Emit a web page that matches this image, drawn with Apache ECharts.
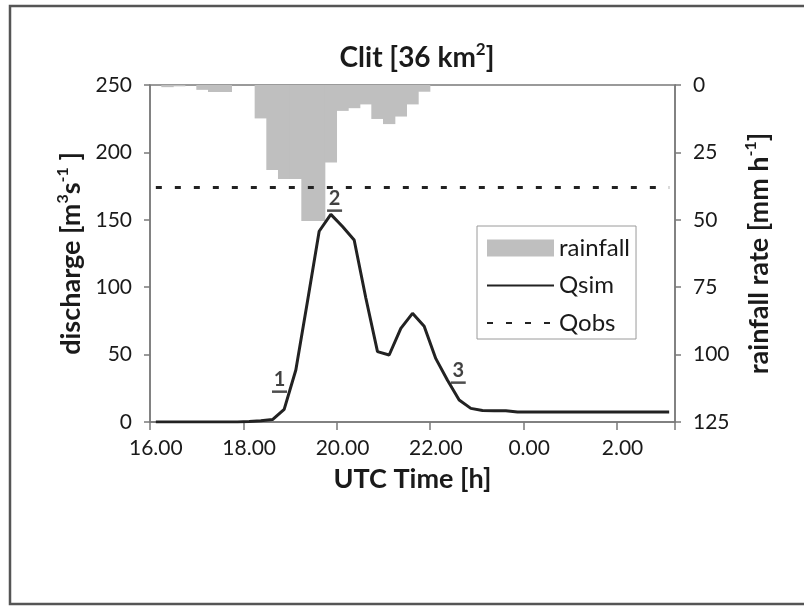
<!DOCTYPE html>
<html>
<head>
<meta charset="utf-8">
<script src="https://cdn.jsdelivr.net/npm/echarts@6/dist/echarts.min.js"></script>
<style>
  html, body { margin: 0; padding: 0; background: #fff; }
  #chart { width: 804px; height: 606px; }
</style>
</head>
<body>
<div id="chart"></div>
<script>
// Quarter-hour time steps, 16:00 to 03:00 (UTC)
const categories = [
  '16.00','16.15','16.30','16.45','17.00','17.15','17.30','17.45',
  '18.00','18.15','18.30','18.45','19.00','19.15','19.30','19.45',
  '20.00','20.15','20.30','20.45','21.00','21.15','21.30','21.45',
  '22.00','22.15','22.30','22.45','23.00','23.15','23.30','23.45',
  '0.00','0.15','0.30','0.45','1.00','1.15','1.30','1.45',
  '2.00','2.15','2.30','2.45','3.00'
];

// Rainfall rate [mm/h]
const rainfall = [
  0, 0.8, 0.5, 0, 1.8, 2.6, 2.6, 0,
  0, 12.4, 31.5, 34.9, 34.9, 50.4, 50.4, 28.7,
  9.6, 8.6, 7.2, 12.6, 14.5, 11.7, 7.2, 2.5,
  0, 0, 0, 0, 0, 0, 0, 0,
  0, 0, 0, 0, 0, 0, 0, 0,
  0, 0, 0, 0, 0
];

// Simulated discharge [m3/s]
const qsim = [
  0, 0, 0, 0, 0, 0, 0, 0,
  0.3, 1, 1.8, 9.4, 38.6, 89.5, 141.5, 154,
  145, 135, 92, 52.2, 49.7, 69.5, 80.6, 71,
  47, 31, 16.3, 10.1, 8.6, 8.4, 8.4, 7.4,
  7.4, 7.4, 7.4, 7.4, 7.4, 7.4, 7.4, 7.4,
  7.4, 7.4, 7.4, 7.4, 7.4
];

// Observed discharge [m3/s]
const qobs = [
  174, 174, 174, 174, 174, 174, 174, 174,
  174, 174, 174, 174, 174, 174, 174, 174,
  174, 174, 174, 174, 174, 174, 174, 174,
  174, 174, 174, 174, 174, 174, 174, 174,
  174, 174, 174, 174, 174, 174, 174, 174,
  174, 174, 174, 174, 174
];

// Numbered moments on the hydrograph: [time in hours from 0:00 of day 1, discharge, label]
const moments = [
  [18.65, 22.5, '1'],
  [19.83, 156.8, '2'],
  [22.48, 29.2, '3']
];

const xTickLabelStep = 8;     // one label every 2 hours
const dischargeTicks = { min: 0, max: 250, interval: 50 };
const rainTicks = { min: 0, max: 125, interval: 25 };

const FONT = 'Lato, "Liberation Sans", sans-serif';
const TXT = '#1a1a1a';
const AX = '#7a7a7a';
const LINE = '#222';

const chart = echarts.init(document.getElementById('chart'), null, { renderer: 'canvas' });

const supStyle = { fontSize: 16, fontWeight: 'bold', fontFamily: FONT, color: TXT, verticalAlign: 'top', lineHeight: 32 };
const baseStyle = { fontSize: 27, fontWeight: 'bold', fontFamily: FONT, color: TXT, lineHeight: 32 };

chart.setOption({
  backgroundColor: '#fff',
  animation: false,
  graphic: [{
    type: 'rect',
    shape: { x: 10, y: 6, width: 810, height: 598 },
    style: { fill: 'none', stroke: '#555', lineWidth: 2.5 },
    silent: true
  }],
  title: {
    text: 'Clit [36 km{sup|2}]',
    left: 412,
    top: 36,
    textAlign: 'center',
    textStyle: {
      fontSize: 28, fontWeight: 'bold', fontFamily: FONT, color: TXT, lineHeight: 34,
      rich: { sup: { fontSize: 17, fontWeight: 'bold', fontFamily: FONT, color: TXT, verticalAlign: 'top', lineHeight: 34 } }
    }
  },
  grid: {
    left: 150, right: 129, top: 85, bottom: 184,
    show: true, borderColor: AX, borderWidth: 1.5, backgroundColor: 'transparent'
  },
  legend: {
    data: [
      { name: 'rainfall', icon: 'rect' },
      { name: 'Qsim', itemStyle: { opacity: 0 } },
      { name: 'Qobs', itemStyle: { opacity: 0 } }
    ],
    orient: 'vertical',
    left: 477, top: 226,
    padding: [10, 6, 4, 9],
    itemWidth: 67, itemHeight: 17, itemGap: 13.5,
    borderColor: '#9a9a9a', borderWidth: 1,
    backgroundColor: '#fff',
    textStyle: { fontSize: 24, fontFamily: FONT, color: TXT }
  },
  xAxis: [{
    type: 'category',
    data: categories,
    boundaryGap: true,
    name: 'UTC Time [h]',
    nameLocation: 'middle',
    nameGap: 44,
    nameTextStyle: { fontSize: 27, fontWeight: 'bold', fontFamily: FONT, color: TXT },
    axisLine: { show: true, lineStyle: { color: AX, width: 1.5 } },
    axisTick: { show: true, interval: xTickLabelStep - 1, length: 8, lineStyle: { color: AX, width: 1.5 } },
    axisLabel: { interval: xTickLabelStep - 1, fontSize: 21, fontFamily: FONT, color: TXT, margin: 16 },
    splitLine: { show: false }
  }, {
    type: 'value',
    min: 16 - 0.125,
    max: 27 + 0.125,
    show: false
  }],
  yAxis: [{
    type: 'value',
    min: dischargeTicks.min, max: dischargeTicks.max, interval: dischargeTicks.interval,
    position: 'left',
    name: '{a|discharge [m}{s|3}{a|s}{s|-1}{a| ]}',
    nameLocation: 'middle',
    nameGap: 52,
    nameTextStyle: { rich: { a: baseStyle, s: supStyle } },
    axisLine: { show: true, lineStyle: { color: AX, width: 1.5 } },
    axisTick: { show: true, length: 6, lineStyle: { color: AX, width: 1.5 } },
    axisLabel: { fontSize: 21, fontFamily: FONT, color: TXT, margin: 18 },
    splitLine: { show: false }
  }, {
    type: 'value',
    min: rainTicks.min, max: rainTicks.max, interval: rainTicks.interval,
    inverse: true,
    position: 'right',
    name: '{a|rainfall rate [mm h}{s|-1}{a|]}',
    nameLocation: 'middle',
    nameGap: 68,
    nameTextStyle: { rich: { a: baseStyle, s: supStyle } },
    axisLine: { show: true, lineStyle: { color: AX, width: 1.5 } },
    axisTick: { show: true, length: 6, lineStyle: { color: AX, width: 1.5 } },
    axisLabel: { fontSize: 21, fontFamily: FONT, color: TXT, margin: 18 },
    splitLine: { show: false }
  }],
  series: [{
    name: 'rainfall',
    type: 'bar',
    xAxisIndex: 0, yAxisIndex: 1,
    data: rainfall,
    barWidth: '106%',
    itemStyle: { color: '#bfbfbf' },
    z: 1
  }, {
    name: 'Qsim',
    type: 'line',
    xAxisIndex: 0, yAxisIndex: 0,
    data: qsim,
    symbol: 'none',
    lineStyle: { color: LINE, width: 3 },
    itemStyle: { color: LINE },
    z: 3
  }, {
    name: 'Qobs',
    type: 'line',
    xAxisIndex: 0, yAxisIndex: 0,
    data: qobs,
    symbol: 'none',
    lineStyle: { color: LINE, width: 3, type: [6, 13] },
    itemStyle: { color: LINE },
    z: 3
  }, {
    name: 'moments',
    type: 'scatter',
    xAxisIndex: 1, yAxisIndex: 0,
    data: moments.map(m => ({ value: [m[0], m[1]], name: m[2] })),
    symbol: 'rect',
    symbolSize: [15, 2.5],
    itemStyle: { color: LINE },
    label: {
      show: true, position: 'top', distance: 1,
      formatter: p => p.name,
      fontSize: 20, fontWeight: 'bold', fontFamily: FONT, color: '#111'
    },
    z: 4
  }]
});
</script>
</body>
</html>
